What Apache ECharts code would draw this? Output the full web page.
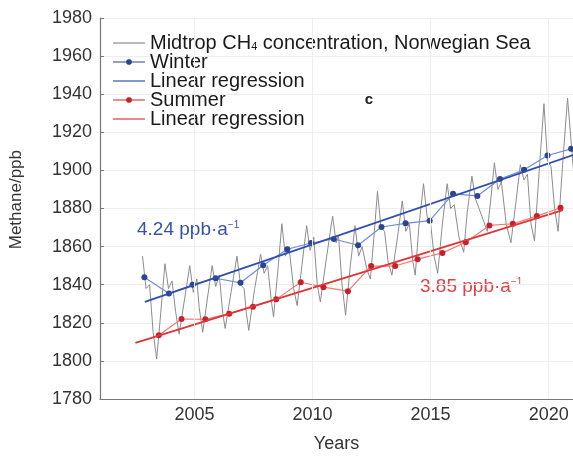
<!DOCTYPE html>
<html><head><meta charset="utf-8">
<script src="https://cdn.jsdelivr.net/npm/echarts@6/dist/echarts.min.js"></script>
<style>html,body{margin:0;padding:0;background:#fff}#c{width:573px;height:458px}</style>
</head><body><div id="c"></div>
<script>
// Monthly-ish mid-troposphere CH4 (gray)
const grayX = [2002.8,2002.95,2003.1,2003.25,2003.4,2003.55,2003.75,2003.9,2004.05,2004.2,2004.35,2004.55,2004.8,2004.95,2005.1,2005.2,2005.35,2005.55,2005.75,2005.9,2006.05,2006.2,2006.3,2006.55,2006.8,2006.95,2007.1,2007.2,2007.3,2007.55,2007.8,2007.95,2008.1,2008.25,2008.35,2008.55,2008.7,2008.85,2009.0,2009.2,2009.35,2009.55,2009.75,2009.9,2010.05,2010.2,2010.33,2010.6,2010.85,2011.0,2011.1,2011.25,2011.4,2011.6,2011.8,2011.95,2012.1,2012.3,2012.45,2012.6,2012.75,2012.9,2013.05,2013.2,2013.36,2013.6,2013.8,2013.95,2014.1,2014.25,2014.35,2014.5,2014.7,2014.85,2015.0,2015.15,2015.3,2015.5,2015.7,2015.85,2016.0,2016.2,2016.4,2016.55,2016.75,2016.9,2017.05,2017.2,2017.4,2017.55,2017.7,2017.85,2018.0,2018.2,2018.4,2018.6,2018.8,2018.95,2019.1,2019.25,2019.4,2019.6,2019.8,2019.95,2020.1,2020.25,2020.4,2020.6,2020.8,2020.95,2021.05];
const grayY = [1855,1838,1840,1815,1801,1822,1851,1838,1842,1826,1814,1830,1850,1836,1843,1828,1815,1833,1850,1839,1845,1825,1817,1836,1855,1840,1838,1825,1816,1838,1856,1846,1850,1832,1823,1850,1872,1855,1860,1838,1829,1850,1871,1858,1865,1840,1831,1855,1876,1862,1866,1840,1824,1850,1871,1855,1860,1848,1843,1865,1889,1870,1868,1852,1845,1865,1884,1868,1872,1852,1845,1870,1893,1876,1872,1855,1846,1872,1893,1880,1882,1865,1857,1878,1897,1885,1880,1875,1868,1885,1904,1890,1894,1872,1862,1882,1903,1895,1898,1872,1863,1900,1935,1905,1902,1880,1868,1905,1938,1915,1900];
// Winter means
const winterX = [2002.88,2003.92,2004.92,2005.9,2006.95,2007.91,2008.93,2009.94,2010.9,2011.93,2012.92,2013.94,2014.96,2015.95,2016.98,2017.94,2018.96,2019.95,2020.95];
const winterY = [1843.9,1835.4,1840,1843.4,1841,1850.2,1858.6,1861.9,1864,1860.7,1870.3,1872.2,1873.6,1887.7,1886.6,1895.5,1900.3,1907.8,1911.3];
// Summer means
const summerX = [2003.49,2004.45,2005.46,2006.47,2007.48,2008.46,2009.5,2010.46,2011.5,2012.48,2013.5,2014.45,2015.5,2016.49,2017.49,2018.48,2019.5,2020.5];
const summerY = [1813.5,1822,1821.8,1824.8,1828.4,1832.3,1841.3,1838.7,1836.6,1849.8,1849.8,1853.4,1856.7,1862.3,1871.1,1872,1876,1880.4];
// Regression line endpoints
const regWX = [2002.9,2021.03], regWY = [1831,1908];
const regSX = [2002.5,2020.6], regSY = [1809.5,1879.2];
const xTicks = [2005,2010,2015,2020];
const labels = {gray:'Midtrop CH4 concentration, Norwegian Sea', winter:'Winter', regW:'Linear regression', summer:'Summer', regS:'Linear regression '};

const zip = (a,b)=>a.map((v,i)=>[v,b[i]]);
const FF = 'Liberation Sans, Arial, sans-serif';
const lineIcon = 'path://M0,0M0,6.4L32,6.4L32,7.6L0,7.6ZM32,14L32,14';
const dotIcon = 'path://M0,0M0,6.4L32,6.4L32,7.6L0,7.6ZM14.8,4.2L17.2,4.2L18.8,5.8L18.8,8.2L17.2,9.8L14.8,9.8L13.2,8.2L13.2,5.8ZM32,14L32,14';
const chart = echarts.init(document.getElementById('c'));
chart.setOption({
  animation:false,
  grid:{left:100,right:0,top:18,bottom:56,containLabel:false},
  xAxis:{type:'value',min:2001,max:2021.03,
    axisLine:{lineStyle:{color:'#777',width:1.2}},
    axisTick:{customValues:xTicks,inside:true,length:4,lineStyle:{color:'#777'}},
    axisLabel:{customValues:xTicks,formatter:v=>String(v),color:'#333',fontSize:18,fontFamily:FF,margin:7},
    splitLine:{show:false},
    name:'Years',nameLocation:'middle',nameGap:36,nameTextStyle:{color:'#333',fontSize:18,fontFamily:FF}
  },
  yAxis:{type:'value',min:1780,max:1980,interval:20,
    axisLine:{show:true,lineStyle:{color:'#777',width:1.2}},
    axisTick:{show:true,inside:true,length:4,lineStyle:{color:'#777'}},
    axisLabel:{formatter:v=>String(v),color:'#333',fontSize:18,fontFamily:FF,margin:8},
    splitLine:{show:true,lineStyle:{color:'#eeeeee',width:1}}
  },
  legend:{orient:'vertical',left:113,top:33,itemWidth:32,itemHeight:14,itemGap:-1,
    padding:0,
    data:[{name:labels.gray,icon:lineIcon},{name:labels.winter,icon:dotIcon},{name:labels.regW,icon:lineIcon},{name:labels.summer,icon:dotIcon},{name:labels.regS,icon:lineIcon}],
    textStyle:{fontSize:20,lineHeight:18,fontFamily:FF,color:'#1a1a1a',
      rich:{a:{fontSize:20,lineHeight:18,fontFamily:FF,color:'#1a1a1a'},s:{fontSize:11,lineHeight:10,verticalAlign:'bottom',fontFamily:FF,color:'#1a1a1a'}}},
    formatter:function(n){
      if(n===labels.gray){return '{a|Midtrop CH}{s|4}{a| concentration, Norwegian Sea}';}
      return '{a|'+n.trim()+'}';
    }
  },
  graphic:[
    {type:'text',left:8,top:150,rotation:Math.PI/2,style:{text:'Methane/ppb',fontSize:17,fontFamily:FF,fill:'#333'}},
    {type:'text',x:369,y:100,style:{text:'c',fontSize:15,fontWeight:'bold',fontFamily:FF,fill:'#222',align:'center',verticalAlign:'middle'}},
    {type:'text',x:137,y:230,style:{rich:{t:{fontSize:19,fontFamily:FF,fill:'#3552a8'},p:{fontSize:10,fontFamily:FF,fill:'#3552a8',padding:[0,0,10,0]}},text:'{t|4.24 ppb·a}{p|−1}',verticalAlign:'middle'}},
    {type:'text',x:420,y:287,style:{rich:{t:{fontSize:19,fontFamily:FF,fill:'#df4147'},p:{fontSize:10,fontFamily:FF,fill:'#df4147',padding:[0,0,10,0]}},text:'{t|3.85 ppb·a}{p|−1}',verticalAlign:'middle'}}
  ],
  series:[
    {name:labels.gray,type:'line',data:zip(grayX,grayY),symbol:'none',lineStyle:{color:'#8c8c8c',width:1},itemStyle:{color:'#8c8c8c'},z:1,
      markLine:{silent:true,symbol:'none',label:{show:false},lineStyle:{color:'#eeeeee',width:1,type:'solid'},data:xTicks.map(v=>({xAxis:v}))}},
    {name:labels.winter,type:'line',data:zip(winterX,winterY),symbol:'circle',symbolSize:6,lineStyle:{color:'#6f8ed6',width:1.2},itemStyle:{color:'#2b4590'},z:3},
    {name:labels.regW,type:'line',data:zip(regWX,regWY),symbol:'none',lineStyle:{color:'#2f4fae',width:1.8},itemStyle:{color:'#2f4fae'},z:4},
    {name:labels.summer,type:'line',data:zip(summerX,summerY),symbol:'circle',symbolSize:6,lineStyle:{color:'#f07a7a',width:1.2},itemStyle:{color:'#c8202a'},z:3},
    {name:labels.regS,type:'line',data:zip(regSX,regSY),symbol:'none',lineStyle:{color:'#e03535',width:1.8},itemStyle:{color:'#e03535'},z:4}
  ]
});
</script></body></html>
